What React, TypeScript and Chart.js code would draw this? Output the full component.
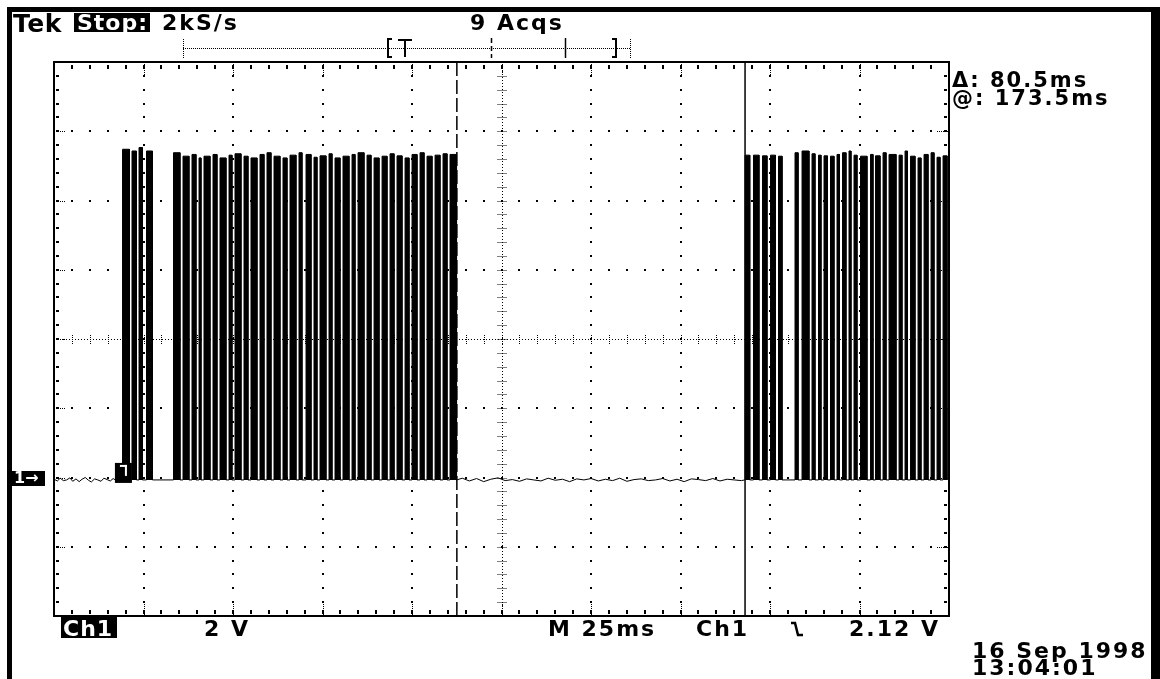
import React, { useEffect, useRef } from "react";
import { Chart, registerables } from "chart.js";

Chart.register(...registerables);

// ---- scope settings (ms, volts) ----
const msPerDiv = 25;
const voltsPerDiv = 2;
const xMin = -19.53;
const xMax = xMin + msPerDiv * 10;
const yMin = -3.93;
const yMax = yMin + voltsPerDiv * 8;
const cursorA = 93.0; // dashed cursor (ms)
const cursorB = 173.5; // solid cursor (ms)
const triggerTime = 0;

// ---- header / footer texts ----
const sampleRate = "2kS/s";
const acqs = "9 Acqs";
const deltaText = "Δ: 80.5ms";
const atText = "@: 173.5ms";
const chScale = "2 V";
const timeBase = "M 25ms";
const trigSource = "Ch1";
const trigLevel = "2.12 V";
const dateText = "16 Sep 1998";
const timeText = "13:04:01";

// ---- quiet baseline before trigger ----
const preNoiseT = [-19.5, -18.6, -17.8, -16.9, -16.0, -15.1, -14.3, -13.4, -12.5, -11.7, -10.8, -9.9, -9.1, -8.2, -7.3, -6.4, -5.6, -4.7, -3.8, -3.0, -2.1, -1.2, -0.4];
const preNoiseV = [0.02, -0.03, 0.05, -0.02, 0.0, 0.06, -0.04, 0.03, -0.05, 0.02, 0.07, -0.01, -0.06, 0.03, 0.0, -0.04, 0.05, 0.01, -0.03, 0.04, -0.02, 0.03, 0.0];

// ---- first burst of pulses ----
const burst1Start = [-0.39, 2.26, 4.22, 6.31, 13.85, 16.51, 19.02, 20.98, 22.37, 24.89, 26.84, 29.36, 31.03, 33.55, 35.5, 38.02, 39.97, 41.93, 44.44, 46.4, 48.91, 50.87, 53.1, 54.78, 57.29, 58.97, 61.2, 63.72, 65.4, 67.91, 69.87, 72.11, 74.34, 76.29, 78.53, 80.48, 82.72, 84.67, 86.91, 89.14, 91.09];
const burst1End = [1.54, 3.5, 5.17, 7.97, 15.65, 18.16, 20.12, 21.52, 24.03, 25.98, 28.5, 30.17, 32.69, 34.64, 37.16, 39.11, 41.07, 43.58, 45.54, 48.05, 49.73, 52.25, 53.92, 56.43, 58.11, 60.35, 62.86, 64.54, 67.05, 69.01, 71.25, 73.48, 75.44, 77.67, 79.63, 81.86, 83.82, 86.05, 88.28, 90.24, 92.91];
const burst1Level = [9.55, 9.5, 9.6, 9.5, 9.45, 9.35, 9.4, 9.3, 9.35, 9.4, 9.3, 9.38, 9.42, 9.35, 9.3, 9.4, 9.45, 9.35, 9.3, 9.38, 9.45, 9.4, 9.32, 9.36, 9.42, 9.3, 9.35, 9.4, 9.45, 9.38, 9.3, 9.35, 9.42, 9.36, 9.3, 9.4, 9.45, 9.35, 9.38, 9.42, 9.4];

// ---- quiet baseline between cursors ----
const midNoiseT = [93.0, 94.5, 96.5, 98.5, 100.5, 102.5, 104.5, 106.5, 108.5, 110.5, 112.5, 114.5, 116.5, 118.5, 120.5, 122.5, 124.5, 126.5, 128.5, 130.5, 132.5, 134.5, 136.5, 138.5, 140.5, 142.5, 144.5, 146.5, 148.5, 150.5, 152.5, 154.5, 156.5, 158.5, 160.5, 162.5, 164.5, 166.5, 168.5, 170.5, 172.5, 173.4];
const midNoiseV = [0.0, 0.05, -0.03, 0.04, -0.05, 0.02, 0.06, -0.02, 0.01, -0.04, 0.03, 0.0, -0.03, 0.05, -0.01, 0.02, -0.05, 0.03, 0.0, 0.04, -0.03, 0.02, -0.02, 0.05, -0.04, 0.01, 0.03, -0.02, 0.0, 0.04, -0.03, 0.02, -0.05, 0.03, 0.01, -0.02, 0.04, -0.03, 0.02, 0.0, -0.02, 0.0];

// ---- second burst of pulses ----
const burst2Start = [173.5, 175.86, 178.38, 180.62, 182.85, 187.46, 189.42, 192.21, 194.02, 195.56, 197.37, 199.19, 200.73, 202.54, 203.94, 205.76, 208.55, 209.95, 212.05, 213.72, 216.52, 218.19, 219.73, 221.82, 223.5, 225.46, 227.13, 228.81];
const burst2End = [174.81, 177.38, 179.62, 181.99, 183.83, 188.3, 191.35, 193.03, 194.7, 196.52, 198.33, 199.87, 201.68, 203.08, 204.76, 207.55, 209.23, 211.19, 212.87, 215.66, 217.33, 218.87, 220.96, 222.64, 224.6, 226.27, 227.95, 229.92];
const burst2Level = [9.38, 9.38, 9.36, 9.38, 9.35, 9.45, 9.5, 9.42, 9.38, 9.36, 9.35, 9.4, 9.45, 9.5, 9.38, 9.35, 9.4, 9.36, 9.45, 9.4, 9.38, 9.5, 9.35, 9.3, 9.4, 9.45, 9.32, 9.36];

const lowLevel = 0;

function pulsePoints(starts: number[], ends: number[], levels: number[]) {
  const pts: { x: number; y: number }[] = [];
  for (let i = 0; i < starts.length; i++) {
    pts.push({ x: starts[i], y: lowLevel });
    pts.push({ x: starts[i], y: levels[i] });
    pts.push({ x: ends[i], y: levels[i] });
    pts.push({ x: ends[i], y: lowLevel });
  }
  return pts;
}
function noisePoints(ts: number[], vs: number[]) {
  return ts.map((t, i) => ({ x: t, y: vs[i] }));
}

const graticule = {
  id: "graticule",
  beforeDatasetsDraw(chart: any) {
    const ctx = chart.ctx;
    const { left, top, right, bottom } = chart.chartArea;
    const w = right - left;
    const h = bottom - top;
    const dx = w / 10;
    const dy = h / 8;
    const cx = left + 5 * dx;
    const cy = top + 4 * dy;
    ctx.save();
    ctx.fillStyle = "#000";
    const dot = (x: number, y: number) => ctx.fillRect(Math.round(x) - 1, Math.round(y) - 1, 2, 2);
    for (let i = 1; i < 10; i++) {
      if (i === 5) continue;
      for (let j = 1; j < 40; j++) dot(left + i * dx, top + (j * dy) / 5);
    }
    for (let j = 1; j < 8; j++) {
      if (j === 4) continue;
      for (let i = 1; i < 50; i++) dot(left + (i * dx) / 5, top + j * dy);
    }
    // center lines
    ctx.strokeStyle = "#000";
    ctx.lineWidth = 1;
    ctx.setLineDash([1, 2]);
    ctx.beginPath();
    ctx.moveTo(left, Math.round(cy) + 0.5);
    ctx.lineTo(right, Math.round(cy) + 0.5);
    ctx.moveTo(Math.round(cx) + 0.5, top);
    ctx.lineTo(Math.round(cx) + 0.5, bottom);
    ctx.stroke();
    ctx.setLineDash([1, 1]);
    ctx.beginPath();
    for (let i = 1; i < 50; i++) {
      const x = Math.round(left + (i * dx) / 5) + 0.5;
      ctx.moveTo(x, cy - 4);
      ctx.lineTo(x, cy + 5);
    }
    for (let j = 1; j < 40; j++) {
      const y = Math.round(top + (j * dy) / 5) + 0.5;
      ctx.moveTo(cx - 4, y);
      ctx.lineTo(cx + 5, y);
    }
    // major ticks on borders (dotted)
    for (let i = 1; i < 10; i++) {
      const x = Math.round(left + i * dx) + 0.5;
      ctx.moveTo(x, top);
      ctx.lineTo(x, top + 14);
      ctx.moveTo(x, bottom - 14);
      ctx.lineTo(x, bottom);
    }
    for (let j = 1; j < 8; j++) {
      const y = Math.round(top + j * dy) + 0.5;
      ctx.moveTo(left, y);
      ctx.lineTo(left + 12, y);
      ctx.moveTo(right - 12, y);
      ctx.lineTo(right, y);
    }
    ctx.stroke();
    ctx.setLineDash([]);
    // minor ticks on borders
    for (let i = 1; i < 50; i++) {
      const x = Math.round(left + (i * dx) / 5) - 1;
      ctx.fillRect(x, top + 3, 2, 4);
      ctx.fillRect(x, bottom - 6, 2, 4);
    }
    for (let j = 1; j < 40; j++) {
      const y = Math.round(top + (j * dy) / 5) - 1;
      ctx.fillRect(left + 2, y, 3, 2);
      ctx.fillRect(right - 5, y, 3, 2);
    }
    ctx.lineWidth = 2;
    ctx.strokeRect(left, top, w, h);
    ctx.restore();
  },
  afterDatasetsDraw(chart: any) {
    const ctx = chart.ctx;
    const { top, bottom } = chart.chartArea;
    const xs = chart.scales.x;
    const ys = chart.scales.y;
    ctx.save();
    ctx.strokeStyle = "#000";
    ctx.lineWidth = 1.5;
    const xa = xs.getPixelForValue(cursorA);
    const xb = xs.getPixelForValue(cursorB);
    ctx.setLineDash([14, 4]);
    ctx.beginPath();
    ctx.moveTo(xa, top);
    ctx.lineTo(xa, bottom);
    ctx.stroke();
    ctx.setLineDash([]);
    ctx.beginPath();
    ctx.moveTo(xb, top);
    ctx.lineTo(xb, bottom);
    ctx.stroke();

    // trigger position marker on trace
    const xt = xs.getPixelForValue(triggerTime);
    const yg = ys.getPixelForValue(0);
    ctx.fillStyle = "#000";
    ctx.fillRect(xt - 9, yg - 17, 17, 20);
    ctx.fillStyle = "#fff";
    ctx.fillRect(xt - 4, yg - 15, 7, 2);
    ctx.fillRect(xt + 1, yg - 15, 2, 11);

    // record view bar at the top
    const recL = 387;
    const recR = 617;
    const frac = (t: number) => recL + ((t - xMin) / (xMax - xMin)) * (recR - recL);
    ctx.fillStyle = "#000";
    ctx.strokeStyle = "#000";
    ctx.lineWidth = 1;
    ctx.setLineDash([1, 1]);
    ctx.beginPath();
    ctx.moveTo(183, 48.5);
    ctx.lineTo(630, 48.5);
    ctx.moveTo(183.5, 39);
    ctx.lineTo(183.5, 58);
    ctx.moveTo(630.5, 39);
    ctx.lineTo(630.5, 58);
    ctx.stroke();
    ctx.setLineDash([]);
    // brackets
    ctx.fillRect(recL, 38, 2, 20);
    ctx.fillRect(recL, 38, 5, 2);
    ctx.fillRect(recL, 56, 5, 2);
    ctx.fillRect(recR - 2, 38, 2, 20);
    ctx.fillRect(recR - 5, 38, 5, 2);
    ctx.fillRect(recR - 5, 56, 5, 2);
    // trigger T
    const tx = Math.round(frac(triggerTime));
    ctx.fillRect(tx - 7, 39, 14, 2);
    ctx.fillRect(tx - 1, 39, 2, 18);
    // cursor ticks
    const ca = Math.round(frac(cursorA)) + 0.5;
    const cb = Math.round(frac(cursorB)) + 0.5;
    ctx.lineWidth = 1.5;
    ctx.setLineDash([5, 3]);
    ctx.beginPath();
    ctx.moveTo(ca, 38);
    ctx.lineTo(ca, 58);
    ctx.stroke();
    ctx.setLineDash([]);
    ctx.beginPath();
    ctx.moveTo(cb, 38);
    ctx.lineTo(cb, 58);
    ctx.stroke();
    ctx.restore();
  },
};

const FONT = '"DejaVu Sans", "Liberation Sans", sans-serif';

function Txt(props: { text: string; left: number; cap: number; size?: number; color?: string; spacing?: number; weight?: string }) {
  const size = props.size ?? 22;
  return (
    <div
      style={{
        position: "absolute",
        left: props.left,
        top: props.cap - size * 0.12,
        fontFamily: FONT,
        fontWeight: (props.weight ?? "bold") as any,
        fontSize: size,
        lineHeight: `${size}px`,
        letterSpacing: `${props.spacing ?? 2}px`,
        color: props.color ?? "#000",
        whiteSpace: "pre",
      }}
    >
      {props.text}
    </div>
  );
}

function Box(props: { left: number; top: number; width: number; height: number }) {
  return <div style={{ position: "absolute", left: props.left, top: props.top, width: props.width, height: props.height, background: "#000" }} />;
}

export default function App() {
  const ref = useRef<HTMLCanvasElement>(null);
  useEffect(() => {
    if (!ref.current) return;
    const chart = new Chart(ref.current, {
      type: "line",
      data: {
        datasets: [
          { data: noisePoints(preNoiseT, preNoiseV), borderColor: "#000", borderWidth: 1, fill: false },
          { data: pulsePoints(burst1Start, burst1End, burst1Level), borderColor: "#000", backgroundColor: "#000", borderWidth: 1, fill: { value: lowLevel } },
          { data: noisePoints(midNoiseT, midNoiseV), borderColor: "#000", borderWidth: 1, fill: false },
          { data: pulsePoints(burst2Start, burst2End, burst2Level), borderColor: "#000", backgroundColor: "#000", borderWidth: 1, fill: { value: lowLevel } },
        ],
      },
      options: {
        responsive: false,
        animation: false,
        devicePixelRatio: 1,
        layout: { padding: { left: 54, top: 62, right: 211, bottom: 63 } },
        elements: { point: { radius: 0 }, line: { tension: 0 } },
        scales: {
          x: { type: "linear", min: xMin, max: xMax, display: false },
          y: { type: "linear", min: yMin, max: yMax, display: false },
        },
        plugins: { legend: { display: false }, tooltip: { enabled: false } },
      },
      plugins: [graticule],
    });
    return () => chart.destroy();
  }, []);

  return (
    <div style={{ position: "fixed", left: 0, top: 0, width: 1160, height: 679, background: "#fff", overflow: "hidden" }}>
      <canvas ref={ref} width={1160} height={679} style={{ position: "absolute", left: 0, top: 0, width: 1160, height: 679 }} />
      {/* frame */}
      <Box left={7} top={7} width={5} height={672} />
      <Box left={7} top={7} width={1153} height={5} />
      <Box left={1151} top={7} width={9} height={672} />
      {/* header */}
      <Txt text="Tek" left={13} cap={14} size={25} spacing={0.5} weight="900" />
      <Box left={74} top={13} width={76} height={19} />
      <Txt text="Stop:" left={77} cap={15} color="#fff" spacing={1} />
      <Txt text={sampleRate} left={162} cap={15} />
      <Txt text={acqs} left={470} cap={15} />
      <Txt text={deltaText} left={952} cap={73} size={21} />
      <Txt text={atText} left={952} cap={91} size={21} />
      {/* ground marker */}
      <Box left={12} top={471} width={33} height={15} />
      <Txt text="1→" left={14} cap={472} size={16} color="#fff" spacing={0} />
      {/* footer */}
      <Box left={61} top={616} width={56} height={22} />
      <Txt text="Ch1" left={63} cap={621} color="#fff" spacing={1} />
      <Txt text={chScale} left={204} cap={621} />
      <Txt text={timeBase} left={548} cap={621} />
      <Txt text={trigSource} left={696} cap={621} />
      <svg style={{ position: "absolute", left: 788, top: 620 }} width={18} height={18}>
        <polyline points="3,3 7,3 10,15 15,15" fill="none" stroke="#000" strokeWidth={2.5} />
      </svg>
      <Txt text={trigLevel} left={849} cap={621} />
      <Txt text={dateText} left={972} cap={643} />
      <Txt text={timeText} left={972} cap={660} />
    </div>
  );
}
